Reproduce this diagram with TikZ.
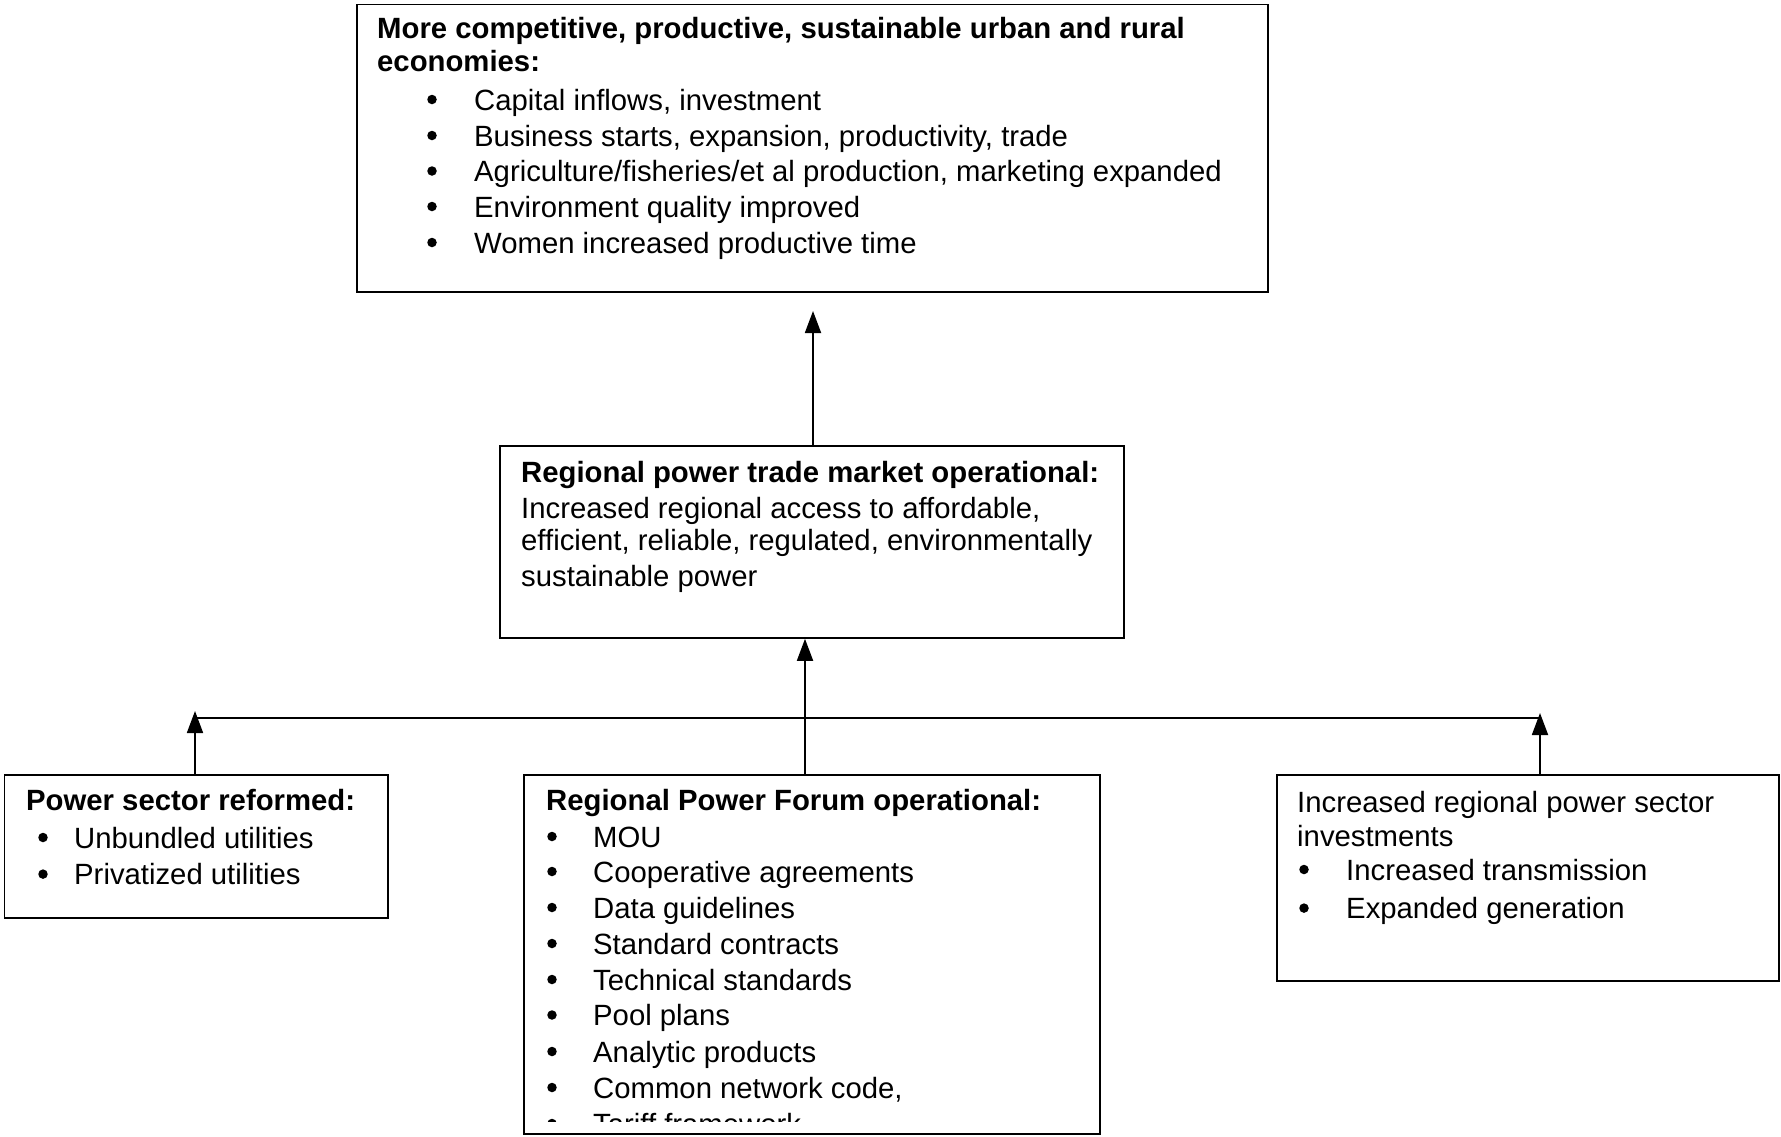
\documentclass[tikz,border=0pt]{standalone}
\usepackage{fontspec}
\setmainfont{Liberation Sans}
\usetikzlibrary{arrows.meta}
\begin{document}
\begin{tikzpicture}[x=1pt,y=-1pt,
  box/.style={draw, line width=1.6pt, inner sep=0pt},
  ln/.style={anchor=base west, inner sep=0pt, font=\fontsize{29.3}{35}\selectfont},
  hd/.style={anchor=base west, inner sep=0pt, font=\fontsize{29.3}{35}\selectfont\bfseries},
  bul/.style={circle, fill=black, inner sep=0pt, minimum size=9.5pt, yshift=10.5pt},
  arr/.style={line width=1.8pt, -{Triangle[length=22pt,width=16pt]}},
  con/.style={line width=1.8pt}]
\useasboundingbox (0,0) rectangle (1781,1136);
\fill[white] (0,0) rectangle (1781,1136);

% boxes
\node[box, minimum width=911pt, minimum height=287.5pt] (top) at (812.5,148.25) {};
\node[box, minimum width=624pt, minimum height=192pt] (mid) at (812,542) {};
\node[box, minimum width=383.5pt, minimum height=143pt] (lbox) at (196.25,846.5) {};
\node[box, minimum width=576pt, minimum height=359pt] (cbox) at (812,954.5) {};
\node[box, minimum width=502pt, minimum height=206pt] (rbox) at (1528,878) {};

% top box text
\node[hd] (t1) at (377,38) {More competitive, productive, sustainable urban and rural};
\node[hd] (t2) at (377,71) {economies:};
\foreach \y/\s [count=\i] in {110/{Capital inflows, investment},146/{Business starts, expansion, productivity, trade},181.5/{Agriculture/fisheries/et al production, marketing expanded},217/{Environment quality improved},253/{Women increased productive time}}{
  \node[bul] (tb\i) at (432,\y) {};
  \node[ln] (tt\i) at (474,\y) {\s};
}

% middle box text
\node[hd] (m1) at (521,482.5) {Regional power trade market operational:};
\node[ln] (m2) at (521,518) {Increased regional access to affordable,};
\node[ln] (m3) at (521,550.6) {efficient, reliable, regulated, environmentally};
\node[ln] (m4) at (521,586) {sustainable power};

% left box text
\node[hd] (l1) at (26,810) {Power sector reformed:};
\node[bul] (lb1) at (43,848) {};
\node[ln] (l2) at (74,848) {Unbundled utilities};
\node[bul] (lb2) at (43,884.6) {};
\node[ln] (l3) at (74,884.6) {Privatized utilities};

% centre bottom box text
\node[hd] (c0) at (546,810) {Regional Power Forum operational:};
\begin{scope}
\clip (524,775) rectangle (1100,1121);
\foreach \y/\s [count=\i] in {847/MOU,882/{Cooperative agreements},918/{Data guidelines},954/{Standard contracts},990/{Technical standards},1025.5/{Pool plans},1062/{Analytic products},1098/{Common network code,},1134/{Tariff framework}}{
  \node[bul] (cb\i) at (552,\y) {};
  \node[ln] (ct\i) at (593,\y) {\s};
}
\end{scope}

% right box text
\node[ln] (r1) at (1297,812) {Increased regional power sector};
\node[ln] (r2) at (1297,846) {investments};
\node[bul] (rb1) at (1304,880) {};
\node[ln] (r3) at (1346,880) {Increased transmission};
\node[bul] (rb2) at (1304,918.6) {};
\node[ln] (r4) at (1346,918.6) {Expanded generation};

% connectors
\coordinate (hl) at (195,718);
\coordinate (hr) at (1540,718);
\coordinate (tl) at (195,711);
\coordinate (tr) at (1540,713);
\coordinate (mx) at (805,0);
\coordinate (ttip) at (813,311);
\draw[con] (hl) -- (hr);
\draw[arr] (lbox.north -| tl) -- (tl);
\draw[arr] (rbox.north -| tr) -- (tr);
\draw[arr] (cbox.north -| mx) -- (mid.south -| mx);
\draw[arr] (mid.north -| ttip) -- (ttip);
\end{tikzpicture}
\end{document}
